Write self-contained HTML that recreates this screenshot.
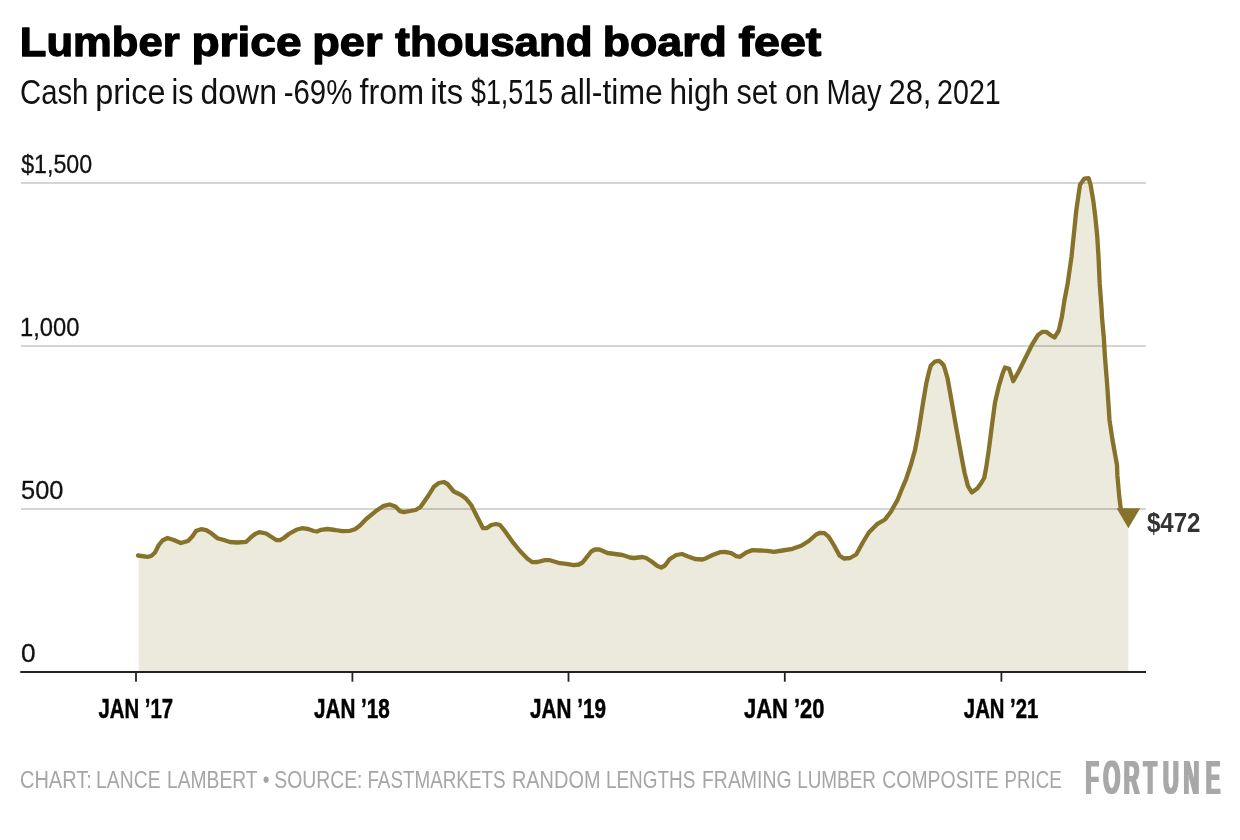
<!DOCTYPE html>
<html><head><meta charset="utf-8"><title>Lumber price per thousand board feet</title>
<style>
html,body{margin:0;padding:0;background:#fff;}
svg{display:block;}
text{font-family:"Liberation Sans",sans-serif;}
</style></head><body>
<svg width="1240" height="840" viewBox="0 0 1240 840">
<defs><filter id="fat" filterUnits="userSpaceOnUse" x="1070" y="740" width="170" height="70"><feMorphology operator="dilate" radius="1.1 0"/></filter></defs>
<rect width="1240" height="840" fill="#fff"/>
<!-- title -->
<text y="56.2" font-size="41" font-weight="bold" fill="#000" stroke="#000" stroke-width="1.3" stroke-linejoin="round"><tspan x="19.8" textLength="159.8" lengthAdjust="spacingAndGlyphs">Lumber</tspan> <tspan x="191.5" textLength="110.0" lengthAdjust="spacingAndGlyphs">price</tspan> <tspan x="312.3" textLength="70.2" lengthAdjust="spacingAndGlyphs">per</tspan> <tspan x="395.3" textLength="197.2" lengthAdjust="spacingAndGlyphs">thousand</tspan> <tspan x="602.8" textLength="124.0" lengthAdjust="spacingAndGlyphs">board</tspan> <tspan x="738.5" textLength="82.8" lengthAdjust="spacingAndGlyphs">feet</tspan></text>
<text y="103.8" font-size="34.2" fill="#111"><tspan x="20.0" textLength="68.4" lengthAdjust="spacingAndGlyphs">Cash</tspan> <tspan x="95.2" textLength="70.3" lengthAdjust="spacingAndGlyphs">price</tspan> <tspan x="171.5" textLength="21.9" lengthAdjust="spacingAndGlyphs">is</tspan> <tspan x="200.6" textLength="76.3" lengthAdjust="spacingAndGlyphs">down</tspan> <tspan x="283.7" textLength="68.6" lengthAdjust="spacingAndGlyphs">-69%</tspan> <tspan x="359.5" textLength="64.5" lengthAdjust="spacingAndGlyphs">from</tspan> <tspan x="430.3" textLength="32.8" lengthAdjust="spacingAndGlyphs">its</tspan> <tspan x="471.0" textLength="82.1" lengthAdjust="spacingAndGlyphs">$1,515</tspan> <tspan x="559.9" textLength="102.9" lengthAdjust="spacingAndGlyphs">all-time</tspan> <tspan x="669.4" textLength="59.7" lengthAdjust="spacingAndGlyphs">high</tspan> <tspan x="736.4" textLength="40.7" lengthAdjust="spacingAndGlyphs">set</tspan> <tspan x="784.9" textLength="34.6" lengthAdjust="spacingAndGlyphs">on</tspan> <tspan x="826.6" textLength="54.9" lengthAdjust="spacingAndGlyphs">May</tspan> <tspan x="888.4" textLength="43.1" lengthAdjust="spacingAndGlyphs">28,</tspan> <tspan x="937.1" textLength="63.7" lengthAdjust="spacingAndGlyphs">2021</tspan></text>
<!-- area -->
<path d="M138.0 555.5 L147.5 556.8 L151.2 556.0 L155.0 552.5 L158.8 545.0 L162.5 540.5 L167.5 538.0 L173.8 540.0 L180.8 543.0 L188.0 541.0 L192.5 536.2 L196.2 530.8 L201.2 529.2 L206.2 530.2 L211.2 533.2 L217.5 538.2 L223.8 540.0 L230.0 542.0 L237.5 542.5 L246.2 541.8 L250.0 538.2 L255.0 534.0 L259.2 532.2 L266.2 533.5 L271.2 536.8 L276.2 540.0 L280.0 540.2 L283.8 538.0 L288.8 534.0 L296.2 529.8 L302.0 528.2 L308.0 529.0 L313.8 531.0 L317.0 531.5 L321.2 529.8 L327.5 529.0 L335.0 530.0 L342.5 531.2 L350.0 530.8 L355.0 529.2 L360.0 525.5 L366.2 519.0 L376.2 510.8 L383.8 505.8 L389.5 504.5 L395.5 506.5 L400.0 511.2 L403.8 512.2 L410.0 511.0 L415.5 510.0 L420.5 507.0 L428.8 495.0 L430.0 493.0 L433.8 486.8 L438.8 483.0 L443.8 482.0 L447.5 484.0 L453.8 491.5 L461.2 495.0 L466.2 498.8 L471.2 505.0 L477.5 517.5 L483.0 528.2 L487.0 528.0 L491.2 525.0 L496.2 524.0 L500.0 525.0 L505.0 531.2 L512.5 541.8 L520.0 551.0 L527.5 558.8 L532.5 562.2 L537.5 562.0 L545.0 560.2 L550.0 560.2 L560.0 563.2 L566.2 563.8 L573.8 565.2 L578.8 564.5 L582.5 562.5 L587.0 556.8 L591.2 551.5 L595.0 549.5 L599.5 549.5 L607.5 553.0 L615.0 554.0 L622.5 555.0 L630.0 557.5 L633.8 558.0 L642.5 557.0 L646.2 558.0 L651.2 561.2 L657.5 566.0 L661.2 567.5 L665.0 565.5 L669.5 559.2 L676.2 555.0 L682.0 554.0 L687.5 556.2 L695.0 559.0 L702.5 559.5 L706.2 558.2 L712.5 555.0 L720.0 552.2 L725.0 551.8 L731.2 553.2 L736.2 556.2 L740.0 556.8 L746.2 552.5 L752.0 550.2 L760.0 550.5 L767.5 550.8 L773.8 551.8 L782.5 550.5 L792.5 548.8 L801.2 545.8 L808.8 541.0 L816.2 534.5 L820.0 532.8 L824.5 533.2 L828.8 536.8 L833.8 545.0 L839.5 555.5 L843.8 558.5 L850.0 558.0 L856.2 554.5 L862.5 543.0 L868.8 532.5 L877.5 523.8 L885.0 519.5 L891.2 511.2 L892.5 508.8 L897.5 500.0 L902.0 488.8 L906.2 478.8 L911.2 463.8 L915.0 450.0 L918.8 430.0 L922.5 406.2 L926.2 383.8 L928.8 372.5 L930.8 365.5 L935.0 361.5 L938.8 360.8 L941.2 362.5 L943.8 365.5 L947.5 378.0 L951.2 398.8 L956.2 427.5 L961.2 455.0 L964.5 472.5 L968.0 486.2 L971.8 492.5 L977.5 488.2 L981.2 483.0 L984.2 478.0 L986.2 467.5 L988.8 450.0 L992.0 425.0 L995.0 402.5 L998.8 386.2 L1002.5 373.8 L1005.0 367.5 L1009.2 368.8 L1013.2 381.2 L1018.8 371.2 L1025.0 358.8 L1032.5 343.8 L1038.0 335.0 L1042.5 331.8 L1046.2 331.8 L1051.2 335.5 L1054.5 337.5 L1058.8 330.5 L1062.0 316.2 L1064.5 300.0 L1067.7 283.4 L1071.5 256.7 L1074.3 230.0 L1076.2 211.0 L1078.7 193.8 L1080.0 184.7 L1084.4 178.6 L1088.6 178.2 L1090.5 184.3 L1093.4 201.4 L1095.3 216.7 L1097.2 235.8 L1098.5 256.7 L1099.7 283.4 L1101.6 309.1 L1102.0 317.5 L1103.8 337.5 L1105.0 357.5 L1107.0 382.5 L1108.2 400.0 L1109.5 420.0 L1112.5 440.0 L1117.0 465.0 L1117.4 475.7 L1119.3 497.1 L1120.7 508.3 L1128.3 508.3 L1128.3 672 L138.7 672 L138.7 555.5 Z" fill="#ece9dd"/>
<!-- grid -->
<g stroke="#000" stroke-opacity="0.22" stroke-width="1.5">
<line x1="21" x2="1146" y1="183" y2="183"/>
<line x1="21" x2="1146" y1="346" y2="346"/>
<line x1="21" x2="1146" y1="509" y2="509"/>
</g>
<!-- y labels -->
<g font-size="26.6" fill="#111" stroke="#111" stroke-width="0.3">
<text x="21.2" y="172.8" textLength="71" lengthAdjust="spacingAndGlyphs">$1,500</text>
<text x="20" y="335.8" textLength="59.5" lengthAdjust="spacingAndGlyphs">1,000</text>
<text x="21.1" y="498.8" textLength="42.4" lengthAdjust="spacingAndGlyphs">500</text>
<text x="21.1" y="662.3" textLength="14.6" lengthAdjust="spacingAndGlyphs">0</text>
</g>
<!-- line -->
<path d="M138.0 555.5 L147.5 556.8 L151.2 556.0 L155.0 552.5 L158.8 545.0 L162.5 540.5 L167.5 538.0 L173.8 540.0 L180.8 543.0 L188.0 541.0 L192.5 536.2 L196.2 530.8 L201.2 529.2 L206.2 530.2 L211.2 533.2 L217.5 538.2 L223.8 540.0 L230.0 542.0 L237.5 542.5 L246.2 541.8 L250.0 538.2 L255.0 534.0 L259.2 532.2 L266.2 533.5 L271.2 536.8 L276.2 540.0 L280.0 540.2 L283.8 538.0 L288.8 534.0 L296.2 529.8 L302.0 528.2 L308.0 529.0 L313.8 531.0 L317.0 531.5 L321.2 529.8 L327.5 529.0 L335.0 530.0 L342.5 531.2 L350.0 530.8 L355.0 529.2 L360.0 525.5 L366.2 519.0 L376.2 510.8 L383.8 505.8 L389.5 504.5 L395.5 506.5 L400.0 511.2 L403.8 512.2 L410.0 511.0 L415.5 510.0 L420.5 507.0 L428.8 495.0 L430.0 493.0 L433.8 486.8 L438.8 483.0 L443.8 482.0 L447.5 484.0 L453.8 491.5 L461.2 495.0 L466.2 498.8 L471.2 505.0 L477.5 517.5 L483.0 528.2 L487.0 528.0 L491.2 525.0 L496.2 524.0 L500.0 525.0 L505.0 531.2 L512.5 541.8 L520.0 551.0 L527.5 558.8 L532.5 562.2 L537.5 562.0 L545.0 560.2 L550.0 560.2 L560.0 563.2 L566.2 563.8 L573.8 565.2 L578.8 564.5 L582.5 562.5 L587.0 556.8 L591.2 551.5 L595.0 549.5 L599.5 549.5 L607.5 553.0 L615.0 554.0 L622.5 555.0 L630.0 557.5 L633.8 558.0 L642.5 557.0 L646.2 558.0 L651.2 561.2 L657.5 566.0 L661.2 567.5 L665.0 565.5 L669.5 559.2 L676.2 555.0 L682.0 554.0 L687.5 556.2 L695.0 559.0 L702.5 559.5 L706.2 558.2 L712.5 555.0 L720.0 552.2 L725.0 551.8 L731.2 553.2 L736.2 556.2 L740.0 556.8 L746.2 552.5 L752.0 550.2 L760.0 550.5 L767.5 550.8 L773.8 551.8 L782.5 550.5 L792.5 548.8 L801.2 545.8 L808.8 541.0 L816.2 534.5 L820.0 532.8 L824.5 533.2 L828.8 536.8 L833.8 545.0 L839.5 555.5 L843.8 558.5 L850.0 558.0 L856.2 554.5 L862.5 543.0 L868.8 532.5 L877.5 523.8 L885.0 519.5 L891.2 511.2 L892.5 508.8 L897.5 500.0 L902.0 488.8 L906.2 478.8 L911.2 463.8 L915.0 450.0 L918.8 430.0 L922.5 406.2 L926.2 383.8 L928.8 372.5 L930.8 365.5 L935.0 361.5 L938.8 360.8 L941.2 362.5 L943.8 365.5 L947.5 378.0 L951.2 398.8 L956.2 427.5 L961.2 455.0 L964.5 472.5 L968.0 486.2 L971.8 492.5 L977.5 488.2 L981.2 483.0 L984.2 478.0 L986.2 467.5 L988.8 450.0 L992.0 425.0 L995.0 402.5 L998.8 386.2 L1002.5 373.8 L1005.0 367.5 L1009.2 368.8 L1013.2 381.2 L1018.8 371.2 L1025.0 358.8 L1032.5 343.8 L1038.0 335.0 L1042.5 331.8 L1046.2 331.8 L1051.2 335.5 L1054.5 337.5 L1058.8 330.5 L1062.0 316.2 L1064.5 300.0 L1067.7 283.4 L1071.5 256.7 L1074.3 230.0 L1076.2 211.0 L1078.7 193.8 L1080.0 184.7 L1084.4 178.6 L1088.6 178.2 L1090.5 184.3 L1093.4 201.4 L1095.3 216.7 L1097.2 235.8 L1098.5 256.7 L1099.7 283.4 L1101.6 309.1 L1102.0 317.5 L1103.8 337.5 L1105.0 357.5 L1107.0 382.5 L1108.2 400.0 L1109.5 420.0 L1112.5 440.0 L1117.0 465.0 L1117.4 475.7 L1119.3 497.1 L1120.7 508.3" fill="none" stroke="#87722a" stroke-width="4.3" stroke-linejoin="round" stroke-linecap="round"/>
<polygon points="1116.6,508.3 1140.2,508.3 1128.4,528.3" fill="#87722a"/>
<text x="1146.9" y="532.2" font-size="26.8" font-weight="bold" fill="#333" textLength="53.6" lengthAdjust="spacingAndGlyphs">$472</text>
<!-- axis -->
<line x1="20.3" x2="1146" y1="672" y2="672" stroke="#222" stroke-width="1.9"/>
<g stroke="#222" stroke-width="1.8">
<line x1="136" x2="136" y1="672" y2="681.7"/>
<line x1="352.4" x2="352.4" y1="672" y2="681.7"/>
<line x1="568.5" x2="568.5" y1="672" y2="681.7"/>
<line x1="784.8" x2="784.8" y1="672" y2="681.7"/>
<line x1="1001.4" x2="1001.4" y1="672" y2="681.7"/>
</g>
<g font-size="27.4" font-weight="bold" fill="#000" stroke="#000" stroke-width="0.5" text-anchor="middle">
<text x="135.8" y="717.6" textLength="74.5" lengthAdjust="spacingAndGlyphs">JAN ’17</text>
<text x="351.9" y="717.6" textLength="76" lengthAdjust="spacingAndGlyphs">JAN ’18</text>
<text x="568.1" y="717.6" textLength="76" lengthAdjust="spacingAndGlyphs">JAN ’19</text>
<text x="784.2" y="717.6" textLength="80.5" lengthAdjust="spacingAndGlyphs">JAN ’20</text>
<text x="1001.1" y="717.6" textLength="74.5" lengthAdjust="spacingAndGlyphs">JAN ’21</text>
</g>
<!-- footer -->
<text y="788" font-size="24.4" fill="#a6a6a6"><tspan x="20.0" textLength="71.8" lengthAdjust="spacingAndGlyphs">CHART:</tspan> <tspan x="96.1" textLength="64.5" lengthAdjust="spacingAndGlyphs">LANCE</tspan> <tspan x="167.0" textLength="90.2" lengthAdjust="spacingAndGlyphs">LAMBERT</tspan> <tspan x="262.7" textLength="6.7" lengthAdjust="spacingAndGlyphs">•</tspan> <tspan x="274.3" textLength="88.2" lengthAdjust="spacingAndGlyphs">SOURCE:</tspan> <tspan x="367.4" textLength="138.2" lengthAdjust="spacingAndGlyphs">FASTMARKETS</tspan> <tspan x="511.9" textLength="88.6" lengthAdjust="spacingAndGlyphs">RANDOM</tspan> <tspan x="605.9" textLength="89.5" lengthAdjust="spacingAndGlyphs">LENGTHS</tspan> <tspan x="702.0" textLength="89.6" lengthAdjust="spacingAndGlyphs">FRAMING</tspan> <tspan x="797.2" textLength="78.8" lengthAdjust="spacingAndGlyphs">LUMBER</tspan> <tspan x="882.3" textLength="116.5" lengthAdjust="spacingAndGlyphs">COMPOSITE</tspan> <tspan x="1004.6" textLength="57.0" lengthAdjust="spacingAndGlyphs">PRICE</tspan></text>
<g filter="url(#fat)"><text transform="scale(0.455,1)" x="2385.7 2424.6 2469.7 2513.4 2555.8 2601.3 2649.9" y="793.7" font-size="48" font-weight="bold" fill="#a8a8a8">FORTUNE</text></g>
</svg>
</body></html>
